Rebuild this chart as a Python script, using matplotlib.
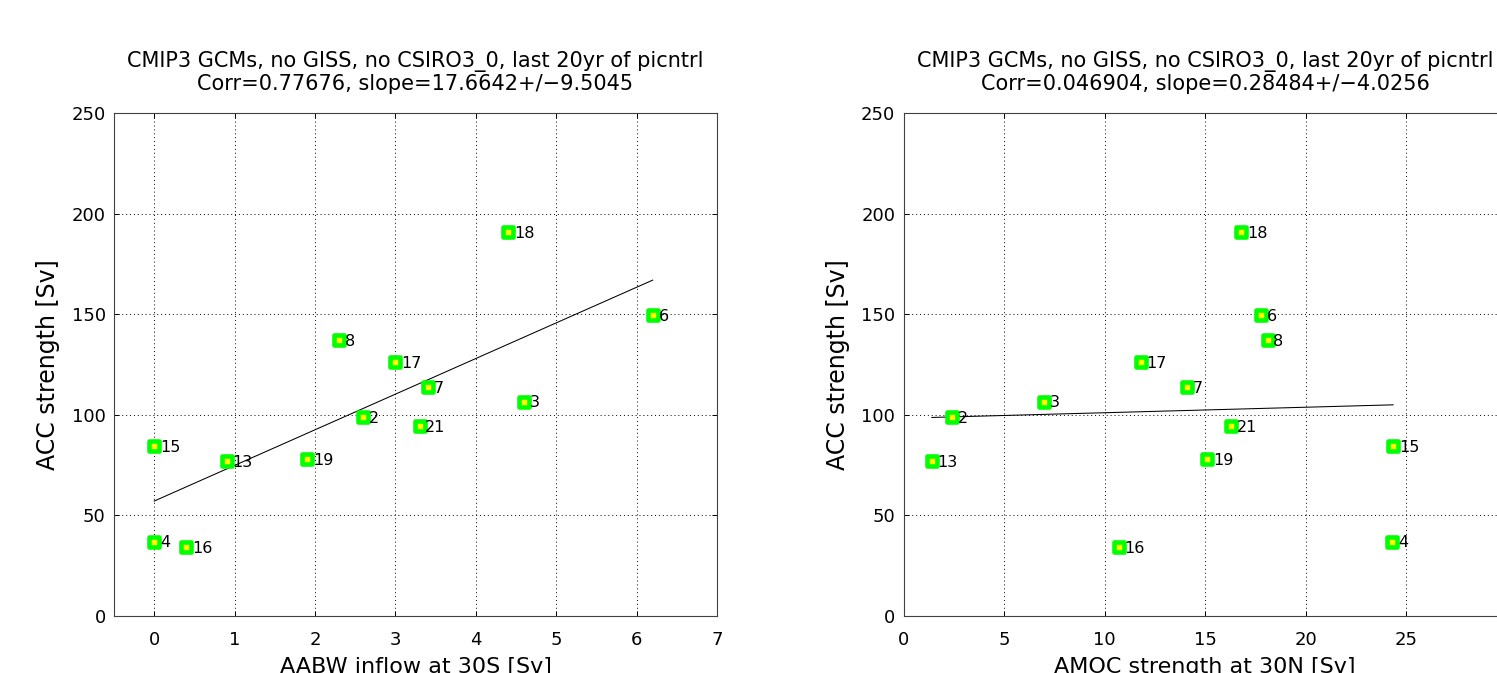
import numpy as np
import matplotlib
matplotlib.use('Agg')
import matplotlib.pyplot as plt
from matplotlib.markers import MarkerStyle

plt.rcParams['font.family'] = ['DejaVu Sans']

# ---- data ----
model_ids = [2, 3, 4, 6, 7, 8, 13, 15, 16, 17, 18, 19, 21]
acc_strength = [98.8, 106.6, 37.0, 149.4, 113.6, 137.0, 76.8, 84.3, 34.3, 126.4, 190.7, 77.9, 94.3]
aabw_inflow = [2.6, 4.6, 0.0, 6.2, 3.4, 2.3, 0.9, 0.0, 0.4, 3.0, 4.4, 1.9, 3.3]
amoc_strength = [2.4, 7.0, 24.3, 17.8, 14.1, 18.1, 1.4, 24.35, 10.7, 11.8, 16.8, 15.1, 16.3]

title_line1 = "CMIP3 GCMs, no GISS, no CSIRO3_0, last 20yr of picntrl"
titles_line2 = ["Corr=0.77676, slope=17.6642+/\u22129.5045",
                "Corr=0.046904, slope=0.28484+/\u22124.0256"]
xlabels = ["AABW inflow at 30S [Sv]", "AMOC strength at 30N [Sv]"]
ylabel = "ACC strength [Sv]"
xlims = [(-0.5, 7), (0, 30)]
xticks = [list(range(0, 8)), list(range(0, 31, 5))]
yticks = list(range(0, 251, 50))

W, H = 1497, 673
fig = plt.figure(figsize=(W / 100, H / 100), dpi=100)
fig.patch.set_facecolor('white')

ax_w, ax_h = 603, 503
ax_bottom = 57
lefts = [114, 903.7]

marker = MarkerStyle('s', joinstyle='round')

for i, xdata in enumerate([aabw_inflow, amoc_strength]):
    ax = fig.add_axes([lefts[i] / W, ax_bottom / H, ax_w / W, ax_h / H])
    x = np.array(xdata, dtype=float)
    y = np.array(acc_strength, dtype=float)

    # regression line
    p = np.polyfit(x, y, 1)
    xl = np.array([x.min(), x.max()])
    ax.plot(xl, np.polyval(p, xl), color='black', lw=0.75, zorder=2)

    ax.plot(x, y, linestyle='none', marker=marker, ms=6.5, mew=3.3,
            mfc='#ffff00', mec='#00ff00', zorder=3)
    for xi, yi, mid in zip(x, y, model_ids):
        ax.annotate(str(mid), (xi, yi), xytext=(4.2, -4.2), textcoords='offset points',
                    ha='left', va='baseline', fontsize=11.5, color='black', zorder=4)

    ax.set_xlim(*xlims[i])
    ax.set_ylim(0, 250)
    ax.set_xticks(xticks[i])
    ax.set_yticks(yticks)
    ax.grid(True, color='black', linestyle=(0, (1, 3)), linewidth=0.7)
    ax.set_axisbelow(True)
    ax.tick_params(direction='in', length=3.6, width=0.7, top=True, right=True,
                   labelsize=13, colors='black')
    ax.tick_params(axis='x', pad=10.5)
    ax.tick_params(axis='y', pad=6)
    for s in ax.spines.values():
        s.set_color('#404040')
        s.set_linewidth(0.8)
    ax.set_title(title_line1 + "\n" + titles_line2[i], fontsize=15, pad=16.5,
                 linespacing=1.15)
    ax.set_xlabel(xlabels[i], fontsize=16, labelpad=6)
    ax.set_ylabel(ylabel, fontsize=17, labelpad=8)

fig.savefig('out.png', dpi=100, facecolor='white')
